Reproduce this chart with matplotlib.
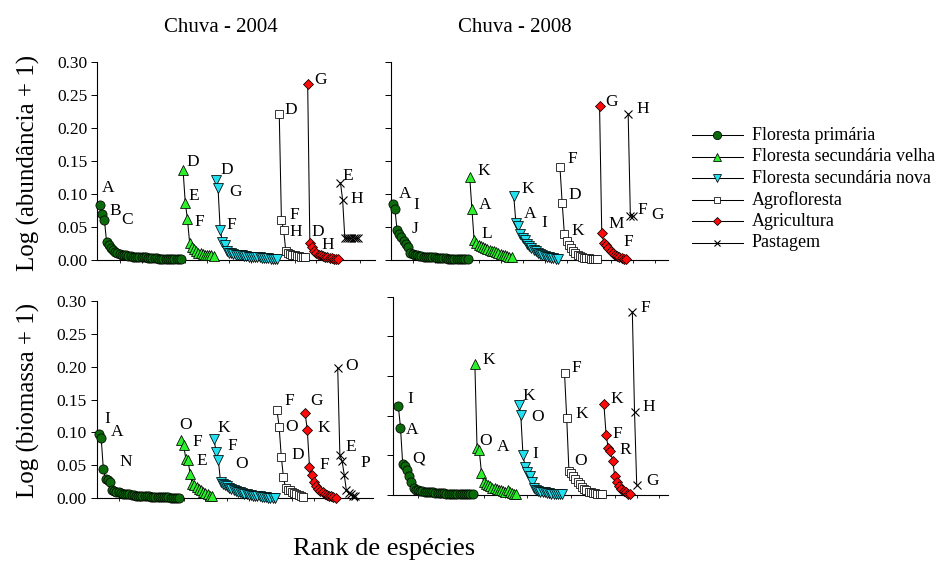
import numpy as np
import matplotlib
matplotlib.use("Agg")
import matplotlib.pyplot as plt
from matplotlib.lines import Line2D

plt.rcParams['font.family'] = ['Liberation Serif', 'DejaVu Serif']

W, H, DPI = 937, 562, 100

land_uses = ["Floresta primária", "Floresta secundária velha", "Floresta secundária nova",
             "Agrofloresta", "Agricultura", "Pastagem"]

# ---- Log(abundance + 1), 2004 ----
abund_2004_primaria = [0.084, 0.070, 0.061, 0.028, 0.022, 0.018, 0.015, 0.012, 0.010, 0.009,
                       0.008, 0.007, 0.007, 0.006, 0.006, 0.005, 0.005, 0.005, 0.004, 0.004,
                       0.004, 0.004, 0.003, 0.003, 0.003, 0.003, 0.003, 0.002, 0.002, 0.002,
                       0.002, 0.002, 0.002, 0.002, 0.002, 0.001, 0.001, 0.001]
abund_2004_sec_velha = [0.136, 0.087, 0.062, 0.026, 0.019, 0.016, 0.013, 0.011, 0.010, 0.009,
                        0.008, 0.008, 0.007, 0.007, 0.006]
abund_2004_sec_nova = [0.121, 0.109, 0.045, 0.028, 0.022, 0.013, 0.011, 0.010, 0.009, 0.008,
                       0.008, 0.007, 0.007, 0.006, 0.006, 0.005, 0.005, 0.005, 0.004, 0.004,
                       0.004, 0.003, 0.003, 0.003, 0.003, 0.002, 0.002, 0.002, 0.002]
abund_2004_agrofloresta = [0.221, 0.060, 0.046, 0.013, 0.011, 0.009, 0.008, 0.007, 0.006, 0.006,
                           0.005, 0.005, 0.005]
abund_2004_agricultura = [0.267, 0.026, 0.020, 0.014, 0.010, 0.008, 0.007, 0.006, 0.005, 0.004,
                          0.003, 0.003, 0.002, 0.002, 0.001]
abund_2004_pastagem = [0.117, 0.091, 0.033, 0.033, 0.033, 0.033, 0.033, 0.033, 0.033]

# ---- Log(abundance + 1), 2008 ----
abund_2008_primaria = [0.085, 0.077, 0.045, 0.040, 0.035, 0.029, 0.024, 0.019, 0.011, 0.009,
                       0.008, 0.007, 0.006, 0.006, 0.005, 0.005, 0.005, 0.004, 0.004, 0.004,
                       0.003, 0.003, 0.003, 0.003, 0.003, 0.002, 0.002, 0.002, 0.002, 0.002,
                       0.002, 0.001, 0.001, 0.001, 0.001]
abund_2008_sec_velha = [0.126, 0.077, 0.030, 0.026, 0.023, 0.021, 0.019, 0.018, 0.016, 0.015,
                        0.014, 0.013, 0.012, 0.010, 0.009, 0.008, 0.007, 0.006, 0.005, 0.004]
abund_2008_sec_nova = [0.097, 0.056, 0.052, 0.040, 0.034, 0.030, 0.025, 0.021, 0.018, 0.015,
                       0.013, 0.011, 0.009, 0.008, 0.006, 0.005, 0.004, 0.003, 0.003, 0.002,
                       0.002]
abund_2008_agrofloresta = [0.141, 0.087, 0.040, 0.029, 0.023, 0.018, 0.013, 0.010, 0.008, 0.006,
                           0.004, 0.003, 0.003, 0.003, 0.002, 0.002, 0.002, 0.002]
abund_2008_agricultura = [0.233, 0.041, 0.026, 0.022, 0.018, 0.014, 0.010, 0.008, 0.006, 0.004,
                          0.003, 0.002, 0.001]
abund_2008_pastagem = [0.221, 0.067, 0.066]

# ---- Log(biomass + 1), 2004 ----
biom_2004_primaria = [0.098, 0.092, 0.044, 0.030, 0.028, 0.024, 0.013, 0.011, 0.010, 0.009,
                      0.008, 0.007, 0.007, 0.006, 0.006, 0.005, 0.005, 0.004, 0.004, 0.004,
                      0.003, 0.003, 0.003, 0.003, 0.002, 0.002, 0.002, 0.002, 0.002, 0.002,
                      0.002, 0.002, 0.002, 0.001, 0.001, 0.001, 0.001, 0.001]
biom_2004_sec_velha = [0.088, 0.081, 0.060, 0.058, 0.037, 0.022, 0.020, 0.017, 0.014, 0.012,
                       0.010, 0.008, 0.006, 0.004, 0.003]
biom_2004_sec_nova = [0.090, 0.070, 0.058, 0.025, 0.022, 0.020, 0.018, 0.016, 0.014, 0.012,
                      0.011, 0.010, 0.009, 0.008, 0.007, 0.006, 0.005, 0.005, 0.004, 0.004,
                      0.003, 0.003, 0.002, 0.002, 0.002, 0.001, 0.001, 0.001, 0.001]
biom_2004_agrofloresta = [0.134, 0.109, 0.063, 0.032, 0.015, 0.013, 0.012, 0.010, 0.008, 0.007,
                          0.005, 0.003, 0.002]
biom_2004_agricultura = [0.129, 0.103, 0.048, 0.035, 0.024, 0.019, 0.014, 0.011, 0.009, 0.007,
                         0.005, 0.004, 0.003, 0.002, 0.001]
biom_2004_pastagem = [0.198, 0.065, 0.057, 0.036, 0.012, 0.008, 0.006, 0.004, 0.003]

# ---- Log(biomass + 1), 2008 ----
biom_2008_primaria = [0.135, 0.102, 0.047, 0.044, 0.038, 0.029, 0.020, 0.011, 0.008, 0.007,
                      0.006, 0.006, 0.005, 0.005, 0.004, 0.004, 0.004, 0.003, 0.003, 0.003,
                      0.003, 0.003, 0.002, 0.002, 0.002, 0.002, 0.002, 0.002, 0.002, 0.001,
                      0.001, 0.001, 0.001, 0.001, 0.001]
biom_2008_sec_velha = [0.198, 0.071, 0.068, 0.034, 0.020, 0.017, 0.015, 0.013, 0.011, 0.010,
                       0.009, 0.008, 0.007, 0.006, 0.005, 0.007, 0.004, 0.003, 0.002, 0.001]
biom_2008_sec_nova = [0.136, 0.121, 0.060, 0.043, 0.035, 0.028, 0.020, 0.011, 0.008, 0.006,
                      0.005, 0.004, 0.004, 0.003, 0.003, 0.002, 0.002, 0.002, 0.001, 0.001,
                      0.001]
biom_2008_agrofloresta = [0.184, 0.116, 0.037, 0.033, 0.029, 0.024, 0.020, 0.016, 0.012, 0.009,
                          0.007, 0.005, 0.004, 0.003, 0.003, 0.002, 0.002, 0.002]
biom_2008_agricultura = [0.137, 0.091, 0.071, 0.066, 0.052, 0.028, 0.019, 0.013, 0.009, 0.006,
                         0.004, 0.002, 0.001]
biom_2008_pastagem = [0.277, 0.125, 0.015]

# species letters: (land use index, rank within land use, letter)
tags_abund_2004 = [(0, 0, 'A'), (0, 1, 'B'), (0, 2, 'C'), (1, 0, 'D'), (1, 1, 'E'), (1, 2, 'F'),
                   (2, 0, 'D'), (2, 1, 'G'), (2, 2, 'F'), (3, 0, 'D'), (3, 1, 'F'), (3, 2, 'H'),
                   (4, 0, 'G'), (4, 1, 'D'), (4, 2, 'H'), (5, 0, 'E'), (5, 1, 'H')]
tags_abund_2008 = [(0, 0, 'A'), (0, 1, 'I'), (0, 2, 'J'), (1, 0, 'K'), (1, 1, 'A'), (1, 2, 'L'),
                   (2, 0, 'K'), (2, 1, 'A'), (2, 2, 'I'), (3, 0, 'F'), (3, 1, 'D'), (3, 2, 'K'),
                   (4, 0, 'G'), (4, 1, 'M'), (4, 2, 'F'), (5, 0, 'H'), (5, 1, 'F'), (5, 2, 'G')]
tags_biom_2004 = [(0, 0, 'I'), (0, 1, 'A'), (0, 2, 'N'), (1, 0, 'O'), (1, 1, 'F'), (1, 2, 'E'),
                  (2, 0, 'K'), (2, 1, 'F'), (2, 2, 'O'), (3, 0, 'F'), (3, 1, 'O'), (3, 2, 'D'),
                  (4, 0, 'G'), (4, 1, 'K'), (4, 2, 'F'), (5, 0, 'O'), (5, 1, 'E'), (5, 2, 'P')]
tags_biom_2008 = [(0, 0, 'I'), (0, 1, 'A'), (0, 2, 'Q'), (1, 0, 'K'), (1, 1, 'O'), (1, 2, 'A'),
                  (2, 0, 'K'), (2, 1, 'O'), (2, 2, 'I'), (3, 0, 'F'), (3, 1, 'K'), (3, 2, 'O'),
                  (4, 0, 'K'), (4, 1, 'F'), (4, 2, 'R'), (5, 0, 'F'), (5, 1, 'H'), (5, 2, 'G')]

# pixel offsets of each letter from its point (right, up)
offs_abund_2004 = [(8, 18), (13, 5), (23, 2), (10, 10), (9, 8), (12, -1), (11, 12), (17, -2),
                   (11, 7), (12, 6), (13, 7), (12, -1), (13, 6), (8, 13), (16, 4), (7, 9), (14, 3)]
offs_abund_2008 = [(12, 12), (21, 6), (18, 3), (14, 8), (13, 6), (13, 8), (14, 9), (14, 11),
                   (26, 4), (12, 10), (13, 9), (13, 4), (12, 6), (14, 11), (24, 3), (15, 7),
                   (12, 8), (25, 3)]
offs_biom_2004 = [(8, 17), (16, 8), (22, 9), (4, 17), (14, 5), (16, 0), (10, 13), (16, 8),
                  (23, -2), (12, 11), (12, 1), (16, 4), (11, 14), (16, 4), (15, 3), (14, 4),
                  (11, 10), (23, 0)]
offs_biom_2008 = [(12, 9), (12, -1), (16, 7), (14, 6), (9, 9), (24, 5), (10, 11), (17, 0),
                  (12, 3), (12, 7), (15, 6), (12, 11), (13, 7), (11, 3), (17, 0), (13, 6),
                  (14, 7), (16, 6)]

styles = [
    dict(marker='o', mfc='#0b6b0b', ms=6.6),
    dict(marker='^', mfc='#2cf02c', ms=6.6),
    dict(marker='v', mfc='#22e0f0', ms=6.8),
    dict(marker='s', mfc='white', ms=5.4),
    dict(marker='D', mfc='#ff0a0a', ms=5.0),
    dict(marker='x', mfc='black', ms=5.4),
]

fig = plt.figure(figsize=(W / DPI, H / DPI), dpi=DPI)


def add_panel(left, top, right, bottom):
    return fig.add_axes([left / W, 1 - bottom / H, (right - left) / W, (bottom - top) / H])


def draw_panel(ax, series, tags, offs, xlim, ystep, show_labels):
    starts = []
    pos = 1
    for k, vals in enumerate(series):
        x = np.arange(pos, pos + len(vals))
        starts.append(pos)
        st = styles[k]
        ax.plot(x, vals, color='black', lw=0.75, zorder=2, clip_on=False)
        ax.plot(x, vals, ls='none', marker=st['marker'], ms=st['ms'], mfc=st['mfc'],
                mec='black', mew=0.55 if k != 5 else 0.8, zorder=3, clip_on=False)
        pos += len(vals)
    for (k, i, letter), (dx, dy) in zip(tags, offs):
        ax.annotate(letter, (starts[k] + i, series[k][i]), xytext=(dx, dy - 5.8),
                    textcoords='offset pixels', ha='center', va='baseline',
                    fontsize=12.5, zorder=4, annotation_clip=False)
    ax.set_xlim(*xlim)
    ax.set_ylim(0, 0.30)
    yt = np.round(np.arange(0, 0.30 + 1e-9, ystep), 2)
    ax.set_yticks(yt)
    if show_labels:
        ax.set_yticklabels([f"{v:.2f}" for v in yt])
    else:
        ax.set_yticklabels([])
    ax.set_xticks(np.arange(10, xlim[1], 10))
    ax.set_xticklabels([])
    ax.tick_params(axis='y', direction='out', length=4, width=0.7, pad=3, labelsize=12.5)
    ax.tick_params(axis='x', direction='out', length=2, width=0.6)
    for s in ('top', 'right'):
        ax.spines[s].set_visible(False)
    for s in ('left', 'bottom'):
        ax.spines[s].set_linewidth(0.8)
    ax.patch.set_alpha(0)


ax_tl = add_panel(97, 62, 375, 260)
draw_panel(ax_tl, [abund_2004_primaria, abund_2004_sec_velha, abund_2004_sec_nova,
                   abund_2004_agrofloresta, abund_2004_agricultura, abund_2004_pastagem],
           tags_abund_2004, offs_abund_2004, (-0.37, 126.8), 0.05, True)

ax_tr = add_panel(391, 62, 668, 260)
draw_panel(ax_tr, [abund_2008_primaria, abund_2008_sec_velha, abund_2008_sec_nova,
                   abund_2008_agrofloresta, abund_2008_agricultura, abund_2008_pastagem],
           tags_abund_2008, offs_abund_2008, (0.23, 126.1), 0.05, False)

ax_bl = add_panel(96.7, 300.7, 373.3, 498.3)
draw_panel(ax_bl, [biom_2004_primaria, biom_2004_sec_velha, biom_2004_sec_nova,
                   biom_2004_agrofloresta, biom_2004_agricultura, biom_2004_pastagem],
           tags_biom_2004, offs_biom_2004, (-0.06, 127.4), 0.05, True)

ax_br = add_panel(393.3, 296.7, 668, 495)
draw_panel(ax_br, [biom_2008_primaria, biom_2008_sec_velha, biom_2008_sec_nova,
                   biom_2008_agrofloresta, biom_2008_agricultura, biom_2008_pastagem],
           tags_biom_2008, offs_biom_2008, (-1.29, 124.3), 0.06, False)

# titles and axis titles
fig.text(221 / W, 1 - 27 / H, "Chuva - 2004", ha='center', va='center', fontsize=15)
fig.text(515 / W, 1 - 27 / H, "Chuva - 2008", ha='center', va='center', fontsize=15)
fig.text(28 / W, 1 - 163 / H, "Log (abundância + 1)", rotation=90, ha='center', va='center',
         fontsize=18)
fig.text(28 / W, 1 - 400 / H, "Log (biomassa + 1)", rotation=90, ha='center', va='center',
         fontsize=18)
fig.text(384 / W, 1 - 549 / H, "Rank de espécies", ha='center', va='center', fontsize=19)

# legend, drawn row by row
for i, name in enumerate(land_uses):
    y = 1 - (135.2 + 21.5 * i) / H
    st = styles[i]
    fig.add_artist(Line2D([692 / W, 743 / W], [y, y], color='black', lw=0.75,
                          transform=fig.transFigure))
    fig.add_artist(Line2D([717.5 / W], [y], ls='none', marker=st['marker'], ms=st['ms'] * 0.9,
                          mfc=st['mfc'], mec='black', mew=0.55 if i != 5 else 0.8,
                          transform=fig.transFigure))
    fig.text(751.7 / W, y, name, ha='left', va='center', fontsize=13)

fig.savefig("out.png", dpi=DPI)
